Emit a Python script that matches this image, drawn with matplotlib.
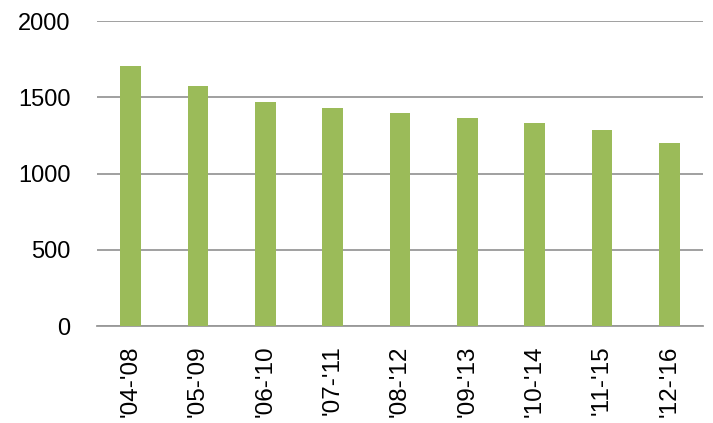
import matplotlib.pyplot as plt

periods = ["'04-'08", "'05-'09", "'06-'10", "'07-'11", "'08-'12",
           "'09-'13", "'10-'14", "'11-'15", "'12-'16"]
values = [1705, 1572, 1469, 1432, 1399, 1362, 1333, 1283, 1198]

plt.rcParams['font.family'] = ['Liberation Sans', 'DejaVu Sans']

fig = plt.figure(figsize=(7.13, 4.23), dpi=100)
ax = fig.add_axes([0.136, 0.229, 0.850, 0.721])

x = range(len(periods))
ax.bar(x, values, width=0.31, color='#9BBB59', zorder=3)

ax.set_xlim(-0.5, len(periods) - 0.5)
ax.set_ylim(0, 2000)
ax.set_yticks([0, 500, 1000, 1500, 2000])
ax.yaxis.grid(True, color='#999999', linewidth=1.3, zorder=0)
ax.set_xticks(list(x))
ax.set_xticklabels(periods, rotation=90, fontsize=17.5)
ax.tick_params(axis='y', labelsize=17, length=0, pad=19)
ax.tick_params(axis='x', length=0, pad=14)

for s in ['top', 'right', 'left']:
    ax.spines[s].set_visible(False)
ax.spines['bottom'].set_color('#999999')
ax.spines['bottom'].set_linewidth(1.3)

fig.savefig('out.png', dpi=100)
